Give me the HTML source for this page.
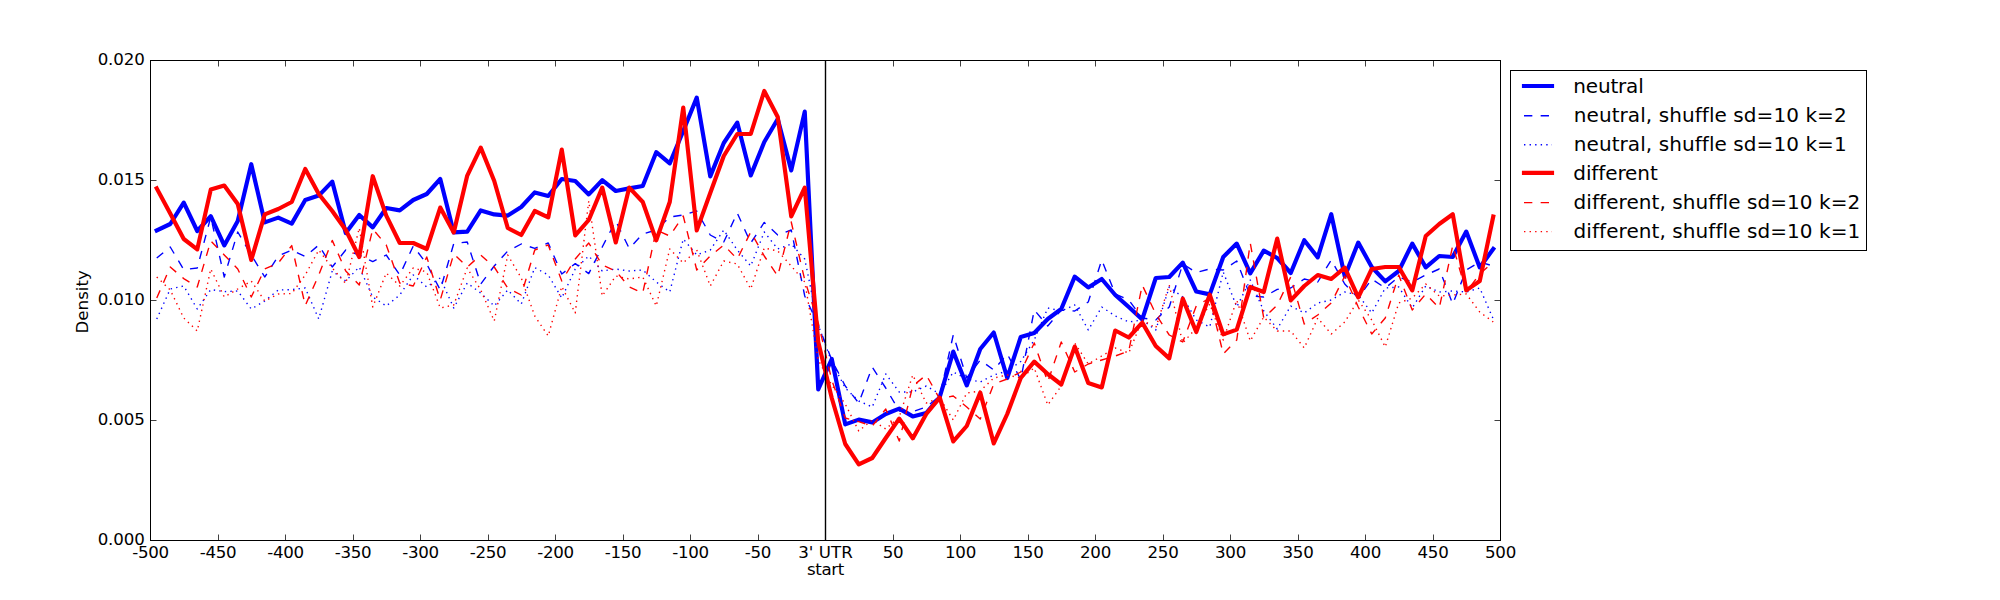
<!DOCTYPE html>
<html><head><meta charset="utf-8"><title>Density plot</title>
<style>
html,body{margin:0;padding:0;background:#fff;}
body{width:2000px;height:600px;overflow:hidden;}
svg{display:block;}
text{font-family:"DejaVu Sans","Liberation Sans",sans-serif;fill:#000;font-variant-ligatures:none;font-feature-settings:"liga" 0,"clig" 0;}
.tk{font-size:16.67px;}
.nm{letter-spacing:-0.3px;}
.ny{letter-spacing:-0.15px;}
.u3{letter-spacing:0.05px;}
.st{letter-spacing:-0.35px;}
.lg{font-size:20px;}
.ax{stroke:#000;stroke-width:1;shape-rendering:crispEdges;}
.tkl{stroke:#000;stroke-width:0.75;}
.thick{fill:none;stroke-width:4.17;stroke-linejoin:round;stroke-linecap:square;}
.dash{fill:none;stroke-width:1.39;stroke-dasharray:8.33 8.33;stroke-linejoin:round;}
.dot{fill:none;stroke-width:1.39;stroke-dasharray:1.39 4.17;stroke-linejoin:round;}
</style></head><body>
<svg width="2000" height="600" viewBox="0 0 2000 600">
<rect x="0" y="0" width="2000" height="600" fill="#ffffff"/>
<defs><clipPath id="cp"><rect x="150" y="60" width="1350" height="480"/></clipPath></defs>

<g clip-path="url(#cp)">
<polyline class="thick" stroke="#0000ff" points="156.75,230.4 170.25,224.0 183.75,202.6 197.25,231.0 210.75,216.2 224.25,245.4 237.75,221.0 251.25,164.2 264.75,222.4 278.25,217.6 291.75,223.6 305.25,200.0 318.75,195.6 332.25,181.6 345.75,233.0 359.25,215.0 372.75,227.4 386.25,208.0 399.75,210.4 413.25,200.0 426.75,194.0 440.25,179.0 453.75,232.4 467.25,231.6 480.75,210.4 494.25,214.4 507.75,215.6 521.25,207.0 534.75,192.4 548.25,196.0 561.75,179.0 575.25,181.0 588.75,194.4 602.25,180.2 615.75,191.0 629.25,188.4 642.75,186.0 656.25,152.2 669.75,163.4 683.25,131.0 696.75,97.6 710.25,176.4 723.75,143.0 737.25,122.6 750.75,175.4 764.25,142.0 777.75,119.0 791.25,170.4 804.75,111.6 818.25,389.4 831.75,359.0 845.25,424.4 858.75,419.6 872.25,422.4 885.75,414.0 899.25,408.6 912.75,416.4 926.25,413.0 939.75,397.0 953.25,351.6 966.75,385.4 980.25,349.0 993.75,332.5 1007.25,378.0 1020.75,337.0 1034.25,333.0 1047.75,319.0 1061.25,309.0 1074.75,276.6 1088.25,287.4 1101.75,279.0 1115.25,295.0 1128.75,307.0 1142.25,319.4 1155.75,278.0 1169.25,277.0 1182.75,262.6 1196.25,291.5 1209.75,294.4 1223.25,257.0 1236.75,243.6 1250.25,273.4 1263.75,250.6 1277.25,258.0 1290.75,273.0 1304.25,240.2 1317.75,257.4 1331.25,214.2 1344.75,276.4 1358.25,242.6 1371.75,267.0 1385.25,281.4 1398.75,271.0 1412.25,243.6 1425.75,267.4 1439.25,256.0 1452.75,257.0 1466.25,231.6 1479.75,267.4 1493.25,249.0"/>
<polyline class="dash" stroke="#0000ff" points="156.75,258.0 170.25,247.0 183.75,269.6 197.25,268.0 210.75,217.0 224.25,277.0 237.75,232.0 251.25,255.0 264.75,277.0 278.25,256.0 291.75,250.0 305.25,256.6 318.75,245.0 332.25,267.0 345.75,250.0 359.25,255.0 372.75,261.6 386.25,255.0 399.75,275.0 413.25,246.0 426.75,264.0 440.25,290.0 453.75,243.6 467.25,242.0 480.75,284.0 494.25,266.0 507.75,251.0 521.25,244.0 534.75,248.4 548.25,243.0 561.75,274.0 575.25,263.6 588.75,273.6 602.25,247.0 615.75,221.0 629.25,248.4 642.75,234.0 656.25,230.0 669.75,217.0 683.25,215.0 696.75,211.0 710.25,235.0 723.75,242.0 737.25,213.0 750.75,243.0 764.25,222.4 777.75,235.0 791.25,230.0 804.75,296.0 818.25,325.0 831.75,360.0 845.25,386.0 858.75,403.0 872.25,367.0 885.75,388.0 899.25,411.0 912.75,411.6 926.25,407.0 939.75,396.0 953.25,335.0 966.75,378.0 980.25,360.0 993.75,370.0 1007.25,354.0 1020.75,379.5 1034.25,310.0 1047.75,326.0 1061.25,310.0 1074.75,311.0 1088.25,302.0 1101.75,260.0 1115.25,294.0 1128.75,300.0 1142.25,318.0 1155.75,320.0 1169.25,307.0 1182.75,264.0 1196.25,272.4 1209.75,269.0 1223.25,270.0 1236.75,261.0 1250.25,296.0 1263.75,297.0 1277.25,289.4 1290.75,288.0 1304.25,279.0 1317.75,282.0 1331.25,260.0 1344.75,284.0 1358.25,298.0 1371.75,279.0 1385.25,288.0 1398.75,277.0 1412.25,282.0 1425.75,275.0 1439.25,269.0 1452.75,304.0 1466.25,270.0 1479.75,262.0 1493.25,266.0"/>
<polyline class="dot" stroke="#0000ff" points="156.75,319.0 170.25,289.0 183.75,286.0 197.25,309.0 210.75,289.6 224.25,291.6 237.75,291.0 251.25,309.0 264.75,301.0 278.25,290.0 291.75,289.6 305.25,288.0 318.75,319.0 332.25,271.0 345.75,281.0 359.25,267.0 372.75,297.0 386.25,306.0 399.75,295.0 413.25,275.0 426.75,287.0 440.25,278.0 453.75,308.0 467.25,283.0 480.75,293.0 494.25,306.0 507.75,290.0 521.25,304.0 534.75,267.6 548.25,275.0 561.75,298.0 575.25,269.0 588.75,256.0 602.25,271.0 615.75,269.0 629.25,271.0 642.75,270.0 656.25,282.0 669.75,292.0 683.25,239.0 696.75,255.0 710.25,250.0 723.75,230.0 737.25,250.0 750.75,266.0 764.25,232.0 777.75,249.0 791.25,244.0 804.75,259.0 818.25,325.0 831.75,362.0 845.25,388.0 858.75,401.0 872.25,407.0 885.75,374.0 899.25,392.0 912.75,392.0 926.25,386.0 939.75,394.0 953.25,372.0 966.75,379.0 980.25,382.0 993.75,375.0 1007.25,371.0 1020.75,361.5 1034.25,340.0 1047.75,308.0 1061.25,311.0 1074.75,305.0 1088.25,330.0 1101.75,307.0 1115.25,316.0 1128.75,322.0 1142.25,320.0 1155.75,330.0 1169.25,287.0 1182.75,297.0 1196.25,320.0 1209.75,327.0 1223.25,272.0 1236.75,307.0 1250.25,280.0 1263.75,311.0 1277.25,329.0 1290.75,306.0 1304.25,313.0 1317.75,303.0 1331.25,300.0 1344.75,292.0 1358.25,295.0 1371.75,313.0 1385.25,288.0 1398.75,287.0 1412.25,308.0 1425.75,286.0 1439.25,292.0 1452.75,291.0 1466.25,292.0 1479.75,288.0 1493.25,319.0"/>
<polyline class="thick" stroke="#ff0000" points="156.75,188.4 170.25,213.6 183.75,239.0 197.25,249.4 210.75,189.6 224.25,185.6 237.75,204.0 251.25,260.0 264.75,214.4 278.25,209.0 291.75,202.0 305.25,169.0 318.75,194.0 332.25,211.0 345.75,230.0 359.25,257.0 372.75,176.2 386.25,215.6 399.75,243.0 413.25,243.0 426.75,249.0 440.25,207.6 453.75,232.4 467.25,175.6 480.75,147.6 494.25,181.0 507.75,228.0 521.25,235.0 534.75,211.0 548.25,217.4 561.75,149.6 575.25,235.4 588.75,220.0 602.25,187.6 615.75,242.4 629.25,187.6 642.75,202.0 656.25,240.4 669.75,202.0 683.25,107.6 696.75,230.4 710.25,193.0 723.75,156.0 737.25,134.0 750.75,134.0 764.25,91.0 777.75,117.0 791.25,216.4 804.75,187.6 818.25,342.0 831.75,398.0 845.25,444.0 858.75,464.4 872.25,458.0 885.75,438.0 899.25,418.6 912.75,438.4 926.25,414.0 939.75,397.6 953.25,441.4 966.75,426.0 980.25,392.6 993.75,443.4 1007.25,414.0 1020.75,378.0 1034.25,361.6 1047.75,374.0 1061.25,384.5 1074.75,346.6 1088.25,383.0 1101.75,387.4 1115.25,330.5 1128.75,337.5 1142.25,322.6 1155.75,346.0 1169.25,358.4 1182.75,298.6 1196.25,332.0 1209.75,294.6 1223.25,334.4 1236.75,329.6 1250.25,287.0 1263.75,292.0 1277.25,238.6 1290.75,300.4 1304.25,286.0 1317.75,275.0 1331.25,279.0 1344.75,267.6 1358.25,297.4 1371.75,269.0 1385.25,267.0 1398.75,267.0 1412.25,290.4 1425.75,236.0 1439.25,224.0 1452.75,214.2 1466.25,290.4 1479.75,281.0 1493.25,216.5"/>
<polyline class="dash" stroke="#ff0000" points="156.75,298.0 170.25,267.0 183.75,278.6 197.25,287.0 210.75,241.0 224.25,255.0 237.75,269.0 251.25,297.0 264.75,269.0 278.25,263.0 291.75,245.6 305.25,305.6 318.75,275.0 332.25,240.4 345.75,271.0 359.25,285.0 372.75,229.0 386.25,245.0 399.75,283.0 413.25,286.0 426.75,257.0 440.25,300.0 453.75,254.0 467.25,267.0 480.75,255.0 494.25,267.0 507.75,288.0 521.25,295.0 534.75,250.0 548.25,245.0 561.75,281.0 575.25,259.0 588.75,243.0 602.25,265.0 615.75,271.0 629.25,287.0 642.75,293.0 656.25,230.0 669.75,236.0 683.25,216.0 696.75,270.0 710.25,256.0 723.75,245.0 737.25,259.0 750.75,232.0 764.25,256.0 777.75,276.0 791.25,222.0 804.75,280.0 818.25,323.0 831.75,380.0 845.25,418.0 858.75,421.6 872.25,426.0 885.75,409.0 899.25,441.0 912.75,386.0 926.25,375.0 939.75,399.0 953.25,396.0 966.75,407.0 980.25,419.0 993.75,384.0 1007.25,379.0 1020.75,372.0 1034.25,343.0 1047.75,382.0 1061.25,342.0 1074.75,372.0 1088.25,364.0 1101.75,360.0 1115.25,356.0 1128.75,351.0 1142.25,285.0 1155.75,314.0 1169.25,335.0 1182.75,342.0 1196.25,306.0 1209.75,298.0 1223.25,354.0 1236.75,340.0 1250.25,243.0 1263.75,318.0 1277.25,305.0 1290.75,277.0 1304.25,324.0 1317.75,315.0 1331.25,303.0 1344.75,276.0 1358.25,307.0 1371.75,334.0 1385.25,318.0 1398.75,275.0 1412.25,310.0 1425.75,294.0 1439.25,308.0 1452.75,245.5 1466.25,292.0 1479.75,274.0 1493.25,262.0"/>
<polyline class="dot" stroke="#ff0000" points="156.75,277.0 170.25,290.0 183.75,318.0 197.25,331.0 210.75,269.0 224.25,297.0 237.75,289.0 251.25,281.0 264.75,301.0 278.25,294.0 291.75,293.6 305.25,275.0 318.75,250.0 332.25,268.0 345.75,283.6 359.25,228.0 372.75,307.0 386.25,273.0 399.75,286.0 413.25,268.0 426.75,272.0 440.25,308.0 453.75,305.0 467.25,268.0 480.75,290.0 494.25,321.0 507.75,255.0 521.25,278.0 534.75,316.0 548.25,336.0 561.75,286.5 575.25,313.0 588.75,201.0 602.25,296.0 615.75,276.0 629.25,279.0 642.75,277.0 656.25,306.0 669.75,249.0 683.25,263.0 696.75,250.0 710.25,286.0 723.75,261.0 737.25,264.0 750.75,289.0 764.25,248.0 777.75,251.0 791.25,266.0 804.75,282.0 818.25,360.0 831.75,385.0 845.25,404.0 858.75,431.0 872.25,420.0 885.75,429.0 899.25,417.0 912.75,375.0 926.25,403.0 939.75,398.0 953.25,420.0 966.75,393.0 980.25,391.0 993.75,378.0 1007.25,375.0 1020.75,378.0 1034.25,368.0 1047.75,405.0 1061.25,386.0 1074.75,343.0 1088.25,364.0 1101.75,356.0 1115.25,348.0 1128.75,353.0 1142.25,320.0 1155.75,328.0 1169.25,285.0 1182.75,343.0 1196.25,328.0 1209.75,304.0 1223.25,340.0 1236.75,300.0 1250.25,341.0 1263.75,317.0 1277.25,331.0 1290.75,331.0 1304.25,348.0 1317.75,318.0 1331.25,334.0 1344.75,322.0 1358.25,300.0 1371.75,320.0 1385.25,347.0 1398.75,303.0 1412.25,298.0 1425.75,284.0 1439.25,296.0 1452.75,295.0 1466.25,294.0 1479.75,312.0 1493.25,322.0"/>
<line x1="825.5" y1="60" x2="825.5" y2="540" stroke="#000" stroke-width="1.4"/>
</g>
<rect x="150.5" y="60.5" width="1350" height="480" fill="none" class="ax"/>
<line class="tkl" x1="150.5" y1="540" x2="150.5" y2="534.5"/><line class="tkl" x1="150.5" y1="61" x2="150.5" y2="66.5"/>
<text class="tk nm" x="150.5" y="557.6" text-anchor="middle">-500</text>
<line class="tkl" x1="218.5" y1="540" x2="218.5" y2="534.5"/><line class="tkl" x1="218.5" y1="61" x2="218.5" y2="66.5"/>
<text class="tk nm" x="218.0" y="557.6" text-anchor="middle">-450</text>
<line class="tkl" x1="285.5" y1="540" x2="285.5" y2="534.5"/><line class="tkl" x1="285.5" y1="61" x2="285.5" y2="66.5"/>
<text class="tk nm" x="285.5" y="557.6" text-anchor="middle">-400</text>
<line class="tkl" x1="353.5" y1="540" x2="353.5" y2="534.5"/><line class="tkl" x1="353.5" y1="61" x2="353.5" y2="66.5"/>
<text class="tk nm" x="353.0" y="557.6" text-anchor="middle">-350</text>
<line class="tkl" x1="420.5" y1="540" x2="420.5" y2="534.5"/><line class="tkl" x1="420.5" y1="61" x2="420.5" y2="66.5"/>
<text class="tk nm" x="420.5" y="557.6" text-anchor="middle">-300</text>
<line class="tkl" x1="488.5" y1="540" x2="488.5" y2="534.5"/><line class="tkl" x1="488.5" y1="61" x2="488.5" y2="66.5"/>
<text class="tk nm" x="488.0" y="557.6" text-anchor="middle">-250</text>
<line class="tkl" x1="555.5" y1="540" x2="555.5" y2="534.5"/><line class="tkl" x1="555.5" y1="61" x2="555.5" y2="66.5"/>
<text class="tk nm" x="555.5" y="557.6" text-anchor="middle">-200</text>
<line class="tkl" x1="623.5" y1="540" x2="623.5" y2="534.5"/><line class="tkl" x1="623.5" y1="61" x2="623.5" y2="66.5"/>
<text class="tk nm" x="623.0" y="557.6" text-anchor="middle">-150</text>
<line class="tkl" x1="690.5" y1="540" x2="690.5" y2="534.5"/><line class="tkl" x1="690.5" y1="61" x2="690.5" y2="66.5"/>
<text class="tk nm" x="690.5" y="557.6" text-anchor="middle">-100</text>
<line class="tkl" x1="758.5" y1="540" x2="758.5" y2="534.5"/><line class="tkl" x1="758.5" y1="61" x2="758.5" y2="66.5"/>
<text class="tk nm" x="758.0" y="557.6" text-anchor="middle">-50</text>
<line class="tkl" x1="825.5" y1="540" x2="825.5" y2="534.5"/><line class="tkl" x1="825.5" y1="61" x2="825.5" y2="66.5"/>
<text class="tk u3" x="825.5" y="557.6" text-anchor="middle">3' UTR</text>
<line class="tkl" x1="893.5" y1="540" x2="893.5" y2="534.5"/><line class="tkl" x1="893.5" y1="61" x2="893.5" y2="66.5"/>
<text class="tk nm" x="893.0" y="557.6" text-anchor="middle">50</text>
<line class="tkl" x1="960.5" y1="540" x2="960.5" y2="534.5"/><line class="tkl" x1="960.5" y1="61" x2="960.5" y2="66.5"/>
<text class="tk nm" x="960.5" y="557.6" text-anchor="middle">100</text>
<line class="tkl" x1="1028.5" y1="540" x2="1028.5" y2="534.5"/><line class="tkl" x1="1028.5" y1="61" x2="1028.5" y2="66.5"/>
<text class="tk nm" x="1028.0" y="557.6" text-anchor="middle">150</text>
<line class="tkl" x1="1095.5" y1="540" x2="1095.5" y2="534.5"/><line class="tkl" x1="1095.5" y1="61" x2="1095.5" y2="66.5"/>
<text class="tk nm" x="1095.5" y="557.6" text-anchor="middle">200</text>
<line class="tkl" x1="1163.5" y1="540" x2="1163.5" y2="534.5"/><line class="tkl" x1="1163.5" y1="61" x2="1163.5" y2="66.5"/>
<text class="tk nm" x="1163.0" y="557.6" text-anchor="middle">250</text>
<line class="tkl" x1="1230.5" y1="540" x2="1230.5" y2="534.5"/><line class="tkl" x1="1230.5" y1="61" x2="1230.5" y2="66.5"/>
<text class="tk nm" x="1230.5" y="557.6" text-anchor="middle">300</text>
<line class="tkl" x1="1298.5" y1="540" x2="1298.5" y2="534.5"/><line class="tkl" x1="1298.5" y1="61" x2="1298.5" y2="66.5"/>
<text class="tk nm" x="1298.0" y="557.6" text-anchor="middle">350</text>
<line class="tkl" x1="1365.5" y1="540" x2="1365.5" y2="534.5"/><line class="tkl" x1="1365.5" y1="61" x2="1365.5" y2="66.5"/>
<text class="tk nm" x="1365.5" y="557.6" text-anchor="middle">400</text>
<line class="tkl" x1="1433.5" y1="540" x2="1433.5" y2="534.5"/><line class="tkl" x1="1433.5" y1="61" x2="1433.5" y2="66.5"/>
<text class="tk nm" x="1433.0" y="557.6" text-anchor="middle">450</text>
<line class="tkl" x1="1500.5" y1="540" x2="1500.5" y2="534.5"/><line class="tkl" x1="1500.5" y1="61" x2="1500.5" y2="66.5"/>
<text class="tk nm" x="1500.5" y="557.6" text-anchor="middle">500</text>
<text class="tk st" x="825.5" y="575.3" text-anchor="middle">start</text>
<line class="tkl" x1="151" y1="540.5" x2="156.5" y2="540.5"/><line class="tkl" x1="1500" y1="540.5" x2="1494.5" y2="540.5"/>
<text class="tk ny" x="144.6" y="544.6" text-anchor="end">0.000</text>
<line class="tkl" x1="151" y1="420.5" x2="156.5" y2="420.5"/><line class="tkl" x1="1500" y1="420.5" x2="1494.5" y2="420.5"/>
<text class="tk ny" x="144.6" y="424.6" text-anchor="end">0.005</text>
<line class="tkl" x1="151" y1="300.5" x2="156.5" y2="300.5"/><line class="tkl" x1="1500" y1="300.5" x2="1494.5" y2="300.5"/>
<text class="tk ny" x="144.6" y="304.6" text-anchor="end">0.010</text>
<line class="tkl" x1="151" y1="180.5" x2="156.5" y2="180.5"/><line class="tkl" x1="1500" y1="180.5" x2="1494.5" y2="180.5"/>
<text class="tk ny" x="144.6" y="184.6" text-anchor="end">0.015</text>
<line class="tkl" x1="151" y1="60.5" x2="156.5" y2="60.5"/><line class="tkl" x1="1500" y1="60.5" x2="1494.5" y2="60.5"/>
<text class="tk ny" x="144.6" y="64.6" text-anchor="end">0.020</text>
<text class="tk" transform="translate(88.2,301.8) rotate(-90)" text-anchor="middle">Density</text>
<rect x="1510.5" y="70.5" width="356" height="179.5" fill="#fff" class="ax"/>
<polyline class="thick" stroke="#0000ff" points="1524,86 1552,86"/>
<text class="lg" style="letter-spacing:-0.18px" x="1573.3" y="93.3">neutral</text>
<polyline class="dash" stroke="#0000ff" points="1524,115.8 1552,115.8"/>
<text class="lg" style="letter-spacing:0.07px" x="1573.8" y="121.6">neutral, shuffle sd=10 k=2</text>
<polyline class="dot" stroke="#0000ff" points="1524,144.7 1552,144.7"/>
<text class="lg" style="letter-spacing:0.07px" x="1573.8" y="150.5">neutral, shuffle sd=10 k=1</text>
<polyline class="thick" stroke="#ff0000" points="1524,172.8 1552,172.8"/>
<text class="lg" style="letter-spacing:-0.1px" x="1573.3" y="180.1">different</text>
<polyline class="dash" stroke="#ff0000" points="1524,202.6 1552,202.6"/>
<text class="lg" style="letter-spacing:0.07px" x="1573.6" y="208.7">different, shuffle sd=10 k=2</text>
<polyline class="dot" stroke="#ff0000" points="1524,231.6 1552,231.6"/>
<text class="lg" style="letter-spacing:0.07px" x="1573.6" y="237.7">different, shuffle sd=10 k=1</text>
</svg></body></html>
